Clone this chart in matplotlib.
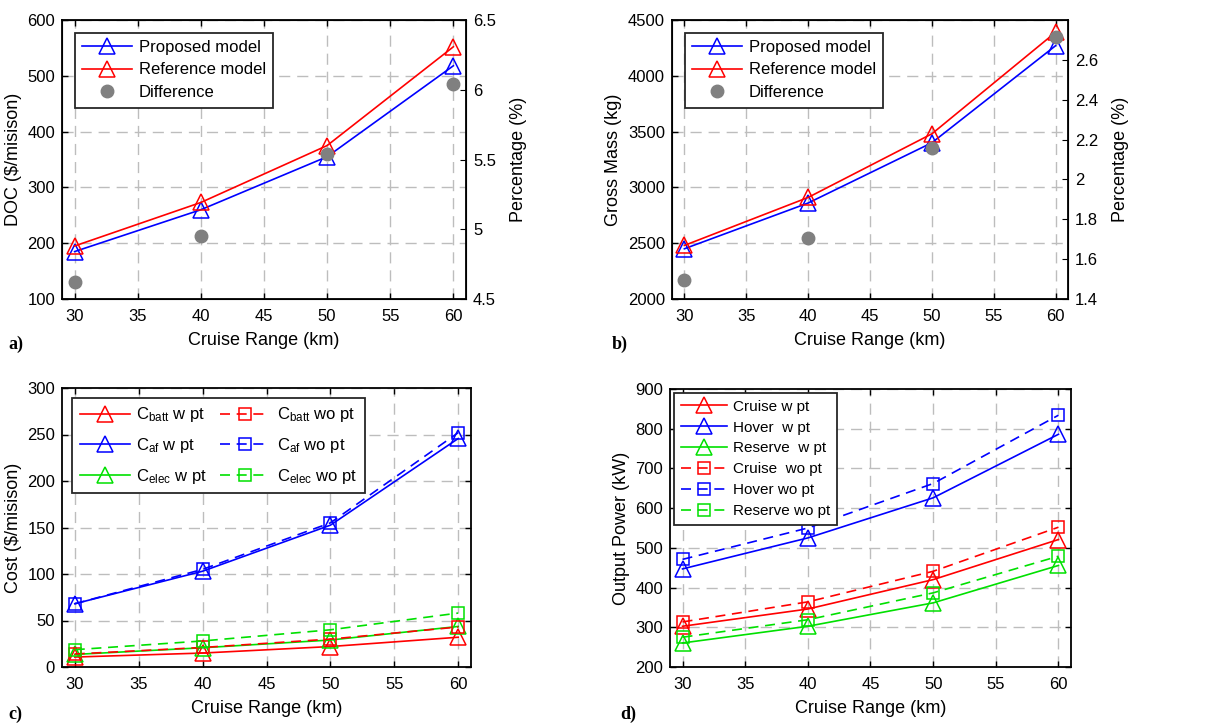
import matplotlib
matplotlib.use("Agg")
import matplotlib.pyplot as plt

plt.rcParams["font.family"] = ["Liberation Sans", "DejaVu Sans"]
plt.rcParams["mathtext.fontset"] = "custom"
plt.rcParams["mathtext.rm"] = "Liberation Sans"
plt.rcParams["mathtext.it"] = "Liberation Sans"
plt.rcParams["xtick.direction"] = "in"
plt.rcParams["ytick.direction"] = "in"

# cruise range (km)
ranges = [30, 40, 50, 60]

# a) direct operating cost
doc_proposed = [185, 260, 355, 518]
doc_reference = [195, 273, 375, 552]
doc_diff_pct = [4.62, 4.95, 5.54, 6.04]

# b) gross mass
mass_proposed = [2450, 2860, 3400, 4270]
mass_reference = [2480, 2910, 3480, 4390]
mass_diff_pct = [1.495, 1.705, 2.16, 2.717]

# c) cost breakdown
c_batt_w = [10.7, 15, 22, 32]
c_batt_wo = [14, 21, 30, 43]
c_af_w = [68, 103, 152.5, 245.7]
c_af_wo = [68, 105, 155, 252]
c_elec_w = [13.5, 20.7, 29, 43.6]
c_elec_wo = [18.6, 28, 40, 58]

# d) output power
cruise_w = [302.6, 346, 420, 521]
hover_w = [447, 525, 626, 786]
reserve_w = [260.5, 302.6, 361.5, 455.7]
cruise_wo = [313.5, 364, 441, 552]
hover_wo = [471, 550, 662, 834]
reserve_wo = [275, 319, 386.7, 479]

W, H = 1212, 724
fig = plt.figure(figsize=(W / 100, H / 100), dpi=100)


def px_axes(left, top, right, bottom):
    return fig.add_axes([left / W, 1 - bottom / H, (right - left) / W, (bottom - top) / H])


def style_axes(ax, ylim, yticks):
    ax.set_xlim(29, 61)
    ax.set_xticks(range(30, 61, 5))
    ax.set_ylim(*ylim)
    ax.set_yticks(yticks)
    ax.grid(True, color="#bdbdbd", linestyle=(0, (8, 5)), linewidth=1.0)
    ax.set_axisbelow(True)
    ax.tick_params(labelsize=12, length=4, width=1, top=True, right=True)
    ax.tick_params(axis="x", pad=7)
    ax.tick_params(axis="y", pad=5)
    for s in ax.spines.values():
        s.set_linewidth(1.3)
    ax.set_xlabel("Cruise Range (km)", fontsize=13, labelpad=6)


def frame(leg):
    leg.get_frame().set_linewidth(1.3)
    return leg


tri = dict(marker="^", markerfacecolor="none", markersize=11, markeredgewidth=1.1, linewidth=1.2)
sq = dict(marker="s", markerfacecolor="none", markersize=8, markeredgewidth=1.1, linewidth=1.2,
          linestyle=(0, (6, 4)))
dot = dict(marker="o", linestyle="none", color="#808080", markersize=9)
leg_kw = dict(loc="upper left", fancybox=False, edgecolor="#262626", framealpha=1,
              handlelength=3.0, handletextpad=0.4, borderpad=0.45)

# ---- a)
ax = px_axes(62, 20, 466, 299)
style_axes(ax, (100, 600), range(100, 601, 100))
ax.set_ylabel("DOC ($/misison)", fontsize=13)
ax.tick_params(right=False)
l1, = ax.plot(ranges, doc_proposed, color="blue", **tri)
l2, = ax.plot(ranges, doc_reference, color="red", **tri)
ax2 = ax.twinx()
ax2.set_ylim(4.5, 6.5)
ax2.set_yticks([4.5, 5, 5.5, 6, 6.5])
ax2.set_yticklabels(["4.5", "5", "5.5", "6", "6.5"])
ax2.tick_params(labelsize=12, direction="in", length=4, pad=5)
ax2.set_ylabel("Percentage (%)", fontsize=13, labelpad=10)
l3, = ax2.plot(ranges, doc_diff_pct, **dot)
frame(ax2.legend([l1, l2, l3], ["Proposed model", "Reference model", "Difference"],
                 fontsize=12, labelspacing=0.45, borderaxespad=0.75, **leg_kw))
fig.text(8 / W, 1 - 344 / H, "a)", fontsize=13, fontweight="bold", family="Liberation Serif", va="center")

# ---- b)
ax = px_axes(672, 20, 1068, 299)
style_axes(ax, (2000, 4500), range(2000, 4501, 500))
ax.set_ylabel("Gross Mass (kg)", fontsize=13)
ax.tick_params(right=False)
l1, = ax.plot(ranges, mass_proposed, color="blue", **tri)
l2, = ax.plot(ranges, mass_reference, color="red", **tri)
ax2 = ax.twinx()
ax2.set_ylim(1.4, 2.8)
ax2.set_yticks([1.4, 1.6, 1.8, 2.0, 2.2, 2.4, 2.6])
ax2.set_yticklabels(["1.4", "1.6", "1.8", "2", "2.2", "2.4", "2.6"])
ax2.tick_params(labelsize=12, direction="in", length=4, pad=5)
ax2.set_ylabel("Percentage (%)", fontsize=13, labelpad=10)
l3, = ax2.plot(ranges, mass_diff_pct, **dot)
frame(ax2.legend([l1, l2, l3], ["Proposed model", "Reference model", "Difference"],
                 fontsize=12, labelspacing=0.45, borderaxespad=0.75, **leg_kw))
fig.text(612 / W, 1 - 344 / H, "b)", fontsize=13, fontweight="bold", family="Liberation Serif", va="center")

# ---- c)
ax = px_axes(62, 388, 471, 667)
style_axes(ax, (0, 300), range(0, 301, 50))
ax.set_ylabel("Cost ($/misison)", fontsize=13)
h = []
h.append(ax.plot(ranges, c_batt_w, color="red", **tri)[0])
h.append(ax.plot(ranges, c_af_w, color="blue", **tri)[0])
h.append(ax.plot(ranges, c_elec_w, color="#00e000", **tri)[0])
h.append(ax.plot(ranges, c_batt_wo, color="red", **sq)[0])
h.append(ax.plot(ranges, c_af_wo, color="blue", **sq)[0])
h.append(ax.plot(ranges, c_elec_wo, color="#00e000", **sq)[0])
labels = [r"C$_{\rm batt}$ w pt", r"C$_{\rm af}$ w pt", r"C$_{\rm elec}$ w pt",
          r"C$_{\rm batt}$ wo pt", r"C$_{\rm af}$ wo pt", r"C$_{\rm elec}$ wo pt"]
frame(ax.legend(h, labels, ncol=2, columnspacing=0.8, fontsize=12, labelspacing=0.7,
                borderaxespad=0.6, **leg_kw))
fig.text(8 / W, 1 - 714 / H, "c)", fontsize=13, fontweight="bold", family="Liberation Serif", va="center")

# ---- d)
ax = px_axes(670, 389, 1071, 667)
style_axes(ax, (200, 900), range(200, 901, 100))
ax.set_ylabel("Output Power (kW)", fontsize=13)
h = []
h.append(ax.plot(ranges, cruise_w, color="red", **tri)[0])
h.append(ax.plot(ranges, hover_w, color="blue", **tri)[0])
h.append(ax.plot(ranges, reserve_w, color="#00e000", **tri)[0])
h.append(ax.plot(ranges, cruise_wo, color="red", **sq)[0])
h.append(ax.plot(ranges, hover_wo, color="blue", **sq)[0])
h.append(ax.plot(ranges, reserve_wo, color="#00e000", **sq)[0])
labels = ["Cruise w pt", "Hover  w pt", "Reserve  w pt", "Cruise  wo pt", "Hover wo pt", "Reserve wo pt"]
frame(ax.legend(h, labels, fontsize=11, labelspacing=0.45, borderaxespad=0.25, **leg_kw))
fig.text(620 / W, 1 - 714 / H, "d)", fontsize=13, fontweight="bold", family="Liberation Serif", va="center")

fig.savefig("out.png", dpi=100, facecolor="white")
